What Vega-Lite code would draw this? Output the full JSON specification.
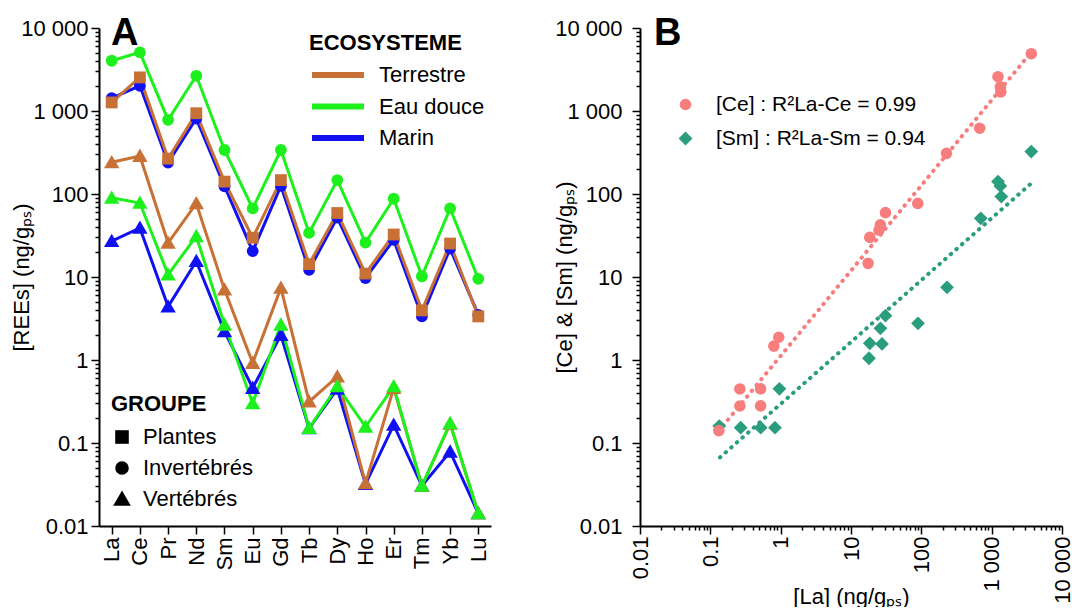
{
  "$schema": "https://vega.github.io/schema/vega-lite/v6.json",
  "padding": {"left": 10, "top": 15, "right": 0, "bottom": 0},
  "spacing": 62,
  "config": {
    "font": "Liberation Sans",
    "view": {"stroke": null},
    "axis": {"grid": false, "domainColor": "#000", "domainWidth": 2, "tickColor": "#000", "tickWidth": 1.5, "labelColor": "#000", "titleColor": "#000", "labelFontSize": 22, "titleFontSize": 22, "titleFontWeight": "normal", "labelOverlap": false, "labelFlush": false},
    "legend": {"labelColor": "#000", "titleColor": "#000", "padding": 0, "labelFontSize": 22, "titleFontSize": 22, "titleFontWeight": "bold", "symbolOpacity": 1, "labelLimit": 400},
    "title": {"color": "#000"}
  },
  "datasets": {
    "ree": [
      {"el": "La", "i": 1, "eco": "Marin", "grp": "Invertébrés", "v": 1430},
      {"el": "Ce", "i": 2, "eco": "Marin", "grp": "Invertébrés", "v": 2010},
      {"el": "Pr", "i": 3, "eco": "Marin", "grp": "Invertébrés", "v": 239},
      {"el": "Nd", "i": 4, "eco": "Marin", "grp": "Invertébrés", "v": 811},
      {"el": "Sm", "i": 5, "eco": "Marin", "grp": "Invertébrés", "v": 124},
      {"el": "Eu", "i": 6, "eco": "Marin", "grp": "Invertébrés", "v": 20.5},
      {"el": "Gd", "i": 7, "eco": "Marin", "grp": "Invertébrés", "v": 125},
      {"el": "Tb", "i": 8, "eco": "Marin", "grp": "Invertébrés", "v": 12.2},
      {"el": "Dy", "i": 9, "eco": "Marin", "grp": "Invertébrés", "v": 52},
      {"el": "Ho", "i": 10, "eco": "Marin", "grp": "Invertébrés", "v": 9.7},
      {"el": "Er", "i": 11, "eco": "Marin", "grp": "Invertébrés", "v": 28},
      {"el": "Tm", "i": 12, "eco": "Marin", "grp": "Invertébrés", "v": 3.35},
      {"el": "Yb", "i": 13, "eco": "Marin", "grp": "Invertébrés", "v": 22},
      {"el": "Lu", "i": 14, "eco": "Marin", "grp": "Invertébrés", "v": 3.5},
      {"el": "La", "i": 1, "eco": "Marin", "grp": "Vertébrés", "v": 27},
      {"el": "Ce", "i": 2, "eco": "Marin", "grp": "Vertébrés", "v": 39},
      {"el": "Pr", "i": 3, "eco": "Marin", "grp": "Vertébrés", "v": 4.4},
      {"el": "Nd", "i": 4, "eco": "Marin", "grp": "Vertébrés", "v": 15.5},
      {"el": "Sm", "i": 5, "eco": "Marin", "grp": "Vertébrés", "v": 2.21},
      {"el": "Eu", "i": 6, "eco": "Marin", "grp": "Vertébrés", "v": 0.46},
      {"el": "Gd", "i": 7, "eco": "Marin", "grp": "Vertébrés", "v": 2.0},
      {"el": "Tb", "i": 8, "eco": "Marin", "grp": "Vertébrés", "v": 0.15},
      {"el": "Dy", "i": 9, "eco": "Marin", "grp": "Vertébrés", "v": 0.45},
      {"el": "Ho", "i": 10, "eco": "Marin", "grp": "Vertébrés", "v": 0.032},
      {"el": "Er", "i": 11, "eco": "Marin", "grp": "Vertébrés", "v": 0.165},
      {"el": "Tm", "i": 12, "eco": "Marin", "grp": "Vertébrés", "v": 0.0305},
      {"el": "Yb", "i": 13, "eco": "Marin", "grp": "Vertébrés", "v": 0.0785},
      {"el": "Lu", "i": 14, "eco": "Marin", "grp": "Vertébrés", "v": 0.0142},
      {"el": "La", "i": 1, "eco": "Terrestre", "grp": "Plantes", "v": 1268},
      {"el": "Ce", "i": 2, "eco": "Terrestre", "grp": "Plantes", "v": 2540},
      {"el": "Pr", "i": 3, "eco": "Terrestre", "grp": "Plantes", "v": 267},
      {"el": "Nd", "i": 4, "eco": "Terrestre", "grp": "Plantes", "v": 940},
      {"el": "Sm", "i": 5, "eco": "Terrestre", "grp": "Plantes", "v": 141},
      {"el": "Eu", "i": 6, "eco": "Terrestre", "grp": "Plantes", "v": 29.7},
      {"el": "Gd", "i": 7, "eco": "Terrestre", "grp": "Plantes", "v": 147},
      {"el": "Tb", "i": 8, "eco": "Terrestre", "grp": "Plantes", "v": 14.3},
      {"el": "Dy", "i": 9, "eco": "Terrestre", "grp": "Plantes", "v": 59},
      {"el": "Ho", "i": 10, "eco": "Terrestre", "grp": "Plantes", "v": 11},
      {"el": "Er", "i": 11, "eco": "Terrestre", "grp": "Plantes", "v": 32.5},
      {"el": "Tm", "i": 12, "eco": "Terrestre", "grp": "Plantes", "v": 3.96},
      {"el": "Yb", "i": 13, "eco": "Terrestre", "grp": "Plantes", "v": 25.3},
      {"el": "Lu", "i": 14, "eco": "Terrestre", "grp": "Plantes", "v": 3.35},
      {"el": "La", "i": 1, "eco": "Terrestre", "grp": "Vertébrés", "v": 241},
      {"el": "Ce", "i": 2, "eco": "Terrestre", "grp": "Vertébrés", "v": 287},
      {"el": "Pr", "i": 3, "eco": "Terrestre", "grp": "Vertébrés", "v": 25.8},
      {"el": "Nd", "i": 4, "eco": "Terrestre", "grp": "Vertébrés", "v": 77},
      {"el": "Sm", "i": 5, "eco": "Terrestre", "grp": "Vertébrés", "v": 7.05},
      {"el": "Eu", "i": 6, "eco": "Terrestre", "grp": "Vertébrés", "v": 0.92},
      {"el": "Gd", "i": 7, "eco": "Terrestre", "grp": "Vertébrés", "v": 7.4},
      {"el": "Tb", "i": 8, "eco": "Terrestre", "grp": "Vertébrés", "v": 0.315},
      {"el": "Dy", "i": 9, "eco": "Terrestre", "grp": "Vertébrés", "v": 0.63},
      {"el": "Ho", "i": 10, "eco": "Terrestre", "grp": "Vertébrés", "v": 0.0326},
      {"el": "Er", "i": 11, "eco": "Terrestre", "grp": "Vertébrés", "v": 0.46},
      {"el": "Tm", "i": 12, "eco": "Terrestre", "grp": "Vertébrés", "v": 0.0305},
      {"el": "Yb", "i": 13, "eco": "Terrestre", "grp": "Vertébrés", "v": 0.17},
      {"el": "Lu", "i": 14, "eco": "Terrestre", "grp": "Vertébrés", "v": 0.0142},
      {"el": "La", "i": 1, "eco": "Eau douce", "grp": "Invertébrés", "v": 4030},
      {"el": "Ce", "i": 2, "eco": "Eau douce", "grp": "Invertébrés", "v": 5080},
      {"el": "Pr", "i": 3, "eco": "Eau douce", "grp": "Invertébrés", "v": 781},
      {"el": "Nd", "i": 4, "eco": "Eau douce", "grp": "Invertébrés", "v": 2655},
      {"el": "Sm", "i": 5, "eco": "Eau douce", "grp": "Invertébrés", "v": 339},
      {"el": "Eu", "i": 6, "eco": "Eau douce", "grp": "Invertébrés", "v": 67},
      {"el": "Gd", "i": 7, "eco": "Eau douce", "grp": "Invertébrés", "v": 339},
      {"el": "Tb", "i": 8, "eco": "Eau douce", "grp": "Invertébrés", "v": 34},
      {"el": "Dy", "i": 9, "eco": "Eau douce", "grp": "Invertébrés", "v": 147},
      {"el": "Ho", "i": 10, "eco": "Eau douce", "grp": "Invertébrés", "v": 26},
      {"el": "Er", "i": 11, "eco": "Eau douce", "grp": "Invertébrés", "v": 87.7},
      {"el": "Tm", "i": 12, "eco": "Eau douce", "grp": "Invertébrés", "v": 10.2},
      {"el": "Yb", "i": 13, "eco": "Eau douce", "grp": "Invertébrés", "v": 67},
      {"el": "Lu", "i": 14, "eco": "Eau douce", "grp": "Invertébrés", "v": 9.5},
      {"el": "La", "i": 1, "eco": "Eau douce", "grp": "Vertébrés", "v": 90},
      {"el": "Ce", "i": 2, "eco": "Eau douce", "grp": "Vertébrés", "v": 78},
      {"el": "Pr", "i": 3, "eco": "Eau douce", "grp": "Vertébrés", "v": 10.7},
      {"el": "Nd", "i": 4, "eco": "Eau douce", "grp": "Vertébrés", "v": 31},
      {"el": "Sm", "i": 5, "eco": "Eau douce", "grp": "Vertébrés", "v": 2.66},
      {"el": "Eu", "i": 6, "eco": "Eau douce", "grp": "Vertébrés", "v": 0.30},
      {"el": "Gd", "i": 7, "eco": "Eau douce", "grp": "Vertébrés", "v": 2.66},
      {"el": "Tb", "i": 8, "eco": "Eau douce", "grp": "Vertébrés", "v": 0.151},
      {"el": "Dy", "i": 9, "eco": "Eau douce", "grp": "Vertébrés", "v": 0.48},
      {"el": "Ho", "i": 10, "eco": "Eau douce", "grp": "Vertébrés", "v": 0.157},
      {"el": "Er", "i": 11, "eco": "Eau douce", "grp": "Vertébrés", "v": 0.48},
      {"el": "Tm", "i": 12, "eco": "Eau douce", "grp": "Vertébrés", "v": 0.0305},
      {"el": "Yb", "i": 13, "eco": "Eau douce", "grp": "Vertébrés", "v": 0.173},
      {"el": "Lu", "i": 14, "eco": "Eau douce", "grp": "Vertébrés", "v": 0.0142}
    ],
    "pts": [
      {"La": 0.134, "c": 0.16, "s": "Sm"},
      {"La": 0.27, "c": 0.153, "s": "Sm"},
      {"La": 0.52, "c": 0.153, "s": "Sm"},
      {"La": 0.83, "c": 0.153, "s": "Sm"},
      {"La": 0.96, "c": 0.45, "s": "Sm"},
      {"La": 18, "c": 1.05, "s": "Sm"},
      {"La": 18.5, "c": 1.59, "s": "Sm"},
      {"La": 26.2, "c": 2.41, "s": "Sm"},
      {"La": 27.6, "c": 1.56, "s": "Sm"},
      {"La": 30.9, "c": 3.42, "s": "Sm"},
      {"La": 89.7, "c": 2.77, "s": "Sm"},
      {"La": 232, "c": 7.5, "s": "Sm"},
      {"La": 700, "c": 51, "s": "Sm"},
      {"La": 1230, "c": 141, "s": "Sm"},
      {"La": 1330, "c": 125, "s": "Sm"},
      {"La": 1370, "c": 93, "s": "Sm"},
      {"La": 3660, "c": 324, "s": "Sm"},
      {"La": 0.132, "c": 0.141, "s": "Ce"},
      {"La": 0.263, "c": 0.448, "s": "Ce"},
      {"La": 0.263, "c": 0.279, "s": "Ce"},
      {"La": 0.518, "c": 0.45, "s": "Ce"},
      {"La": 0.518, "c": 0.28, "s": "Ce"},
      {"La": 0.8, "c": 1.47, "s": "Ce"},
      {"La": 0.94, "c": 1.88, "s": "Ce"},
      {"La": 17.5, "c": 14.6, "s": "Ce"},
      {"La": 18.5, "c": 30, "s": "Ce"},
      {"La": 25, "c": 36.8, "s": "Ce"},
      {"La": 26.2, "c": 42.4, "s": "Ce"},
      {"La": 30.9, "c": 59.6, "s": "Ce"},
      {"La": 89, "c": 77, "s": "Ce"},
      {"La": 228, "c": 309, "s": "Ce"},
      {"La": 676, "c": 620, "s": "Ce"},
      {"La": 1230, "c": 2590, "s": "Ce"},
      {"La": 1330, "c": 1950, "s": "Ce"},
      {"La": 1350, "c": 1700, "s": "Ce"},
      {"La": 3660, "c": 4900, "s": "Ce"}
    ],
    "fit": [
      {"La": 0.13, "c": 0.138, "s": "Ce"},
      {"La": 3500, "c": 4900, "s": "Ce"},
      {"La": 0.137, "c": 0.067, "s": "Sm"},
      {"La": 3660, "c": 134.6, "s": "Sm"}
    ]
  },
  "resolve": {
    "scale": {"x": "independent", "y": "independent", "color": "independent", "shape": "independent", "size": "independent", "fill": "independent"},
    "legend": {"color": "independent", "shape": "independent"}
  },
  "hconcat": [
    {
      "width": 392,
      "height": 498,
      "title": {"text": "A", "anchor": "start", "frame": "group", "fontSize": 38, "fontWeight": "bold", "baseline": "alphabetic", "offset": 0, "dx": 12, "dy": 66},
      "data": {"name": "ree"},
      "layer": [
        {
          "mark": {"type": "line", "strokeWidth": 3},
          "encoding": {
            "x": {"field": "el", "type": "nominal", "sort": ["La","Ce","Pr","Nd","Sm","Eu","Gd","Tb","Dy","Ho","Er","Tm","Yb","Lu"], "scale": {"type": "point", "padding": 0.45},
                  "axis": {"title": null, "labelAngle": -90, "labelAlign": "right", "labelBaseline": "middle", "tickSize": 8, "labelPadding": 3}},
            "y": {"field": "v", "type": "quantitative", "scale": {"type": "log", "domain": [0.01, 10000]},
                  "axis": {"orient": "left", "values": [0.02,0.03,0.04,0.05,0.06,0.07,0.08,0.09,0.2,0.3,0.4,0.5,0.6,0.7,0.8,0.9,2,3,4,5,6,7,8,9,20,30,40,50,60,70,80,90,200,300,400,500,600,700,800,900,2000,3000,4000,5000,6000,7000,8000,9000], "labels": false, "domain": false, "tickSize": 4, "title": null}},
            "color": {"field": "eco", "type": "nominal", "scale": {"domain": ["Terrestre", "Eau douce", "Marin"], "range": ["#C87137", "#1EF01E", "#1010F0"]},
                      "legend": {"title": "ECOSYSTEME", "orient": "none", "legendX": 210, "legendY": 5, "symbolType": "stroke", "symbolSize": 2704, "symbolStrokeWidth": 6, "clipHeight": 22, "rowPadding": 9.5, "labelOffset": 12, "titlePadding": 9}},
            "detail": {"field": "grp"},
            "order": {"field": "i", "type": "quantitative"}
          }
        },
        {
          "mark": {"type": "point", "filled": true, "opacity": 1, "strokeWidth": 0, "size": 140},
          "encoding": {
            "x": {"field": "el", "type": "nominal", "sort": ["La","Ce","Pr","Nd","Sm","Eu","Gd","Tb","Dy","Ho","Er","Tm","Yb","Lu"], "scale": {"type": "point", "padding": 0.45},
                  "axis": {"title": null, "labelAngle": -90, "labelAlign": "right", "labelBaseline": "middle", "tickSize": 8, "labelPadding": 3}},
            "y": {"field": "v", "type": "quantitative", "scale": {"type": "log", "domain": [0.01, 10000]},
                  "axis": {"orient": "left", "values": [0.01, 0.1, 1, 10, 100, 1000, 10000], "tickSize": 8, "labelPadding": 3,
                           "labelExpr": "datum.value >= 10000 ? '10 000' : datum.value >= 1000 ? '1 000' : datum.value >= 100 ? '100' : datum.value >= 10 ? '10' : datum.value >= 1 ? '1' : datum.value >= 0.1 ? '0.1' : '0.01'",
                           "title": "[REEs] (ng/gₚₛ)", "titleX": -78, "titleBaseline": "middle", "titleAlign": "center"}},
            "fill": {"field": "eco", "type": "nominal", "scale": {"domain": ["Terrestre", "Eau douce", "Marin"], "range": ["#C87137", "#1EF01E", "#1010F0"]}, "legend": null},
            "shape": {"field": "grp", "type": "nominal", "scale": {"domain": ["Plantes", "Invertébrés", "Vertébrés"], "range": ["square", "circle", "M0,-1.25L1.3,1L-1.3,1Z"]},
                      "legend": {"title": "GROUPE", "orient": "none", "legendX": 12, "legendY": 366, "symbolSize": 185, "symbolFillColor": "#000", "symbolStrokeColor": "#000", "symbolStrokeWidth": 0, "labelOffset": 10, "rowPadding": 9, "titlePadding": 10}}
          }
        }
      ],
      "resolve": {"axis": {"y": "independent"}}
    },
    {
      "width": 422,
      "height": 498,
      "title": {"text": "B", "anchor": "start", "frame": "group", "fontSize": 38, "fontWeight": "bold", "baseline": "alphabetic", "offset": 0, "dx": 14, "dy": 66},
      "layer": [
        {
          "data": {"name": "fit"},
          "transform": [{"filter": "datum.s == 'Ce'"}],
          "mark": {"type": "line", "color": "#F87E7E", "strokeWidth": 4, "strokeDash": [0.5, 7], "strokeCap": "round"},
          "encoding": {
            "x": {"field": "La", "type": "quantitative", "scale": {"type": "log", "domain": [0.01, 10000]},
                  "axis": {"orient": "bottom", "values": [0.02,0.03,0.04,0.05,0.06,0.07,0.08,0.09,0.2,0.3,0.4,0.5,0.6,0.7,0.8,0.9,2,3,4,5,6,7,8,9,20,30,40,50,60,70,80,90,200,300,400,500,600,700,800,900,2000,3000,4000,5000,6000,7000,8000,9000], "labels": false, "domain": false, "tickSize": 4, "title": null}},
            "y": {"field": "c", "type": "quantitative", "scale": {"type": "log", "domain": [0.01, 10000]},
                  "axis": {"orient": "left", "values": [0.02,0.03,0.04,0.05,0.06,0.07,0.08,0.09,0.2,0.3,0.4,0.5,0.6,0.7,0.8,0.9,2,3,4,5,6,7,8,9,20,30,40,50,60,70,80,90,200,300,400,500,600,700,800,900,2000,3000,4000,5000,6000,7000,8000,9000], "labels": false, "domain": false, "tickSize": 4, "title": null}}
          }
        },
        {
          "data": {"name": "fit"},
          "transform": [{"filter": "datum.s == 'Sm'"}],
          "mark": {"type": "line", "color": "#2A9D7F", "strokeWidth": 4, "strokeDash": [0.5, 7], "strokeCap": "round"},
          "encoding": {
            "x": {"field": "La", "type": "quantitative", "scale": {"type": "log", "domain": [0.01, 10000]}, "axis": null},
            "y": {"field": "c", "type": "quantitative", "scale": {"type": "log", "domain": [0.01, 10000]}, "axis": null}
          }
        },
        {
          "data": {"name": "pts"},
          "mark": {"type": "point", "filled": true, "opacity": 1, "strokeWidth": 0},
          "encoding": {
            "x": {"field": "La", "type": "quantitative", "scale": {"type": "log", "domain": [0.01, 10000]},
                  "axis": {"orient": "bottom", "values": [0.01, 0.1, 1, 10, 100, 1000, 10000], "tickSize": 8, "labelPadding": 2, "labelAngle": -90, "labelAlign": "right", "labelBaseline": "middle",
                           "labelExpr": "datum.value >= 10000 ? '10 000' : datum.value >= 1000 ? '1 000' : datum.value >= 100 ? '100' : datum.value >= 10 ? '10' : datum.value >= 1 ? '1' : datum.value >= 0.1 ? '0.1' : '0.01'",
                           "title": "[La] (ng/gₚₛ)", "titleY": 77, "titleBaseline": "alphabetic"}},
            "y": {"field": "c", "type": "quantitative", "scale": {"type": "log", "domain": [0.01, 10000]},
                  "axis": {"orient": "left", "values": [0.01, 0.1, 1, 10, 100, 1000, 10000], "tickSize": 8, "labelPadding": 10,
                           "labelExpr": "datum.value >= 10000 ? '10 000' : datum.value >= 1000 ? '1 000' : datum.value >= 100 ? '100' : datum.value >= 10 ? '10' : datum.value >= 1 ? '1' : datum.value >= 0.1 ? '0.1' : '0.01'",
                           "title": "[Ce] & [Sm] (ng/gₚₛ)", "titleX": -76, "titleBaseline": "middle", "titleAlign": "center"}},
            "color": {"field": "s", "type": "nominal", "scale": {"domain": ["Ce", "Sm"], "range": ["#F87E7E", "#2A9D7F"]},
                      "legend": {"title": null, "orient": "none", "legendX": 35, "legendY": 66, "symbolSize": 170, "rowPadding": 12, "labelOffset": 20, "labelFontSize": 21, "symbolStrokeWidth": 0,
                                 "labelExpr": "datum.value == 'Ce' ? '[Ce] : R²La-Ce = 0.99' : '[Sm] : R²La-Sm = 0.94'"}},
            "shape": {"field": "s", "type": "nominal", "scale": {"domain": ["Ce", "Sm"], "range": ["circle", "diamond"]}},
            "size": {"field": "s", "type": "nominal", "scale": {"domain": ["Ce", "Sm"], "range": [135, 190]}, "legend": null}
          }
        }
      ],
      "resolve": {"axis": {"x": "independent", "y": "independent"}}
    }
  ]
}
